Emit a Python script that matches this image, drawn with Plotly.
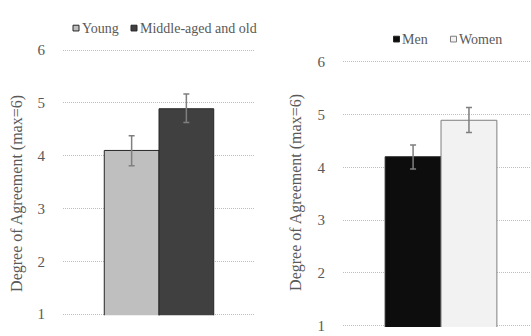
import plotly.graph_objects as go

# Data
age_groups = ["Young", "Middle-aged and old"]
age_means = [4.10, 4.89]
age_err_plus = [0.28, 0.28]
age_err_minus = [0.29, 0.26]

gender_groups = ["Men", "Women"]
gender_means = [4.20, 4.89]
gender_err_plus = [0.22, 0.24]
gender_err_minus = [0.23, 0.23]

y_title = "Degree of Agreement (max=6)"

age_colors = ["#bfbfbf", "#404040"]
age_lines = ["#262626", "#262626"]
gender_colors = ["#0d0d0d", "#f2f2f2"]
gender_lines = ["#262626", "#7f7f7f"]

FONT = "Liberation Serif"
TXT = "#595959"
W, H = 531, 336

fig = go.Figure()

for name, val, ep, em, c, lc in zip(age_groups, age_means, age_err_plus, age_err_minus, age_colors, age_lines):
    fig.add_trace(go.Bar(
        x=["a"], y=[val], name=name, marker=dict(color=c, line=dict(color=lc, width=1)),
        error_y=dict(type="data", symmetric=False, array=[ep], arrayminus=[em],
                     color="#7f7f7f", thickness=1.5, width=3),
        xaxis="x", yaxis="y", showlegend=False,
    ))

for name, val, ep, em, c, lc in zip(gender_groups, gender_means, gender_err_plus, gender_err_minus, gender_colors, gender_lines):
    fig.add_trace(go.Bar(
        x=["g"], y=[val], name=name, marker=dict(color=c, line=dict(color=lc, width=1)),
        error_y=dict(type="data", symmetric=False, array=[ep], arrayminus=[em],
                     color="#7f7f7f", thickness=1.5, width=3),
        xaxis="x2", yaxis="y2", showlegend=False,
    ))

PAD = 0.02
yax_common = dict(
    range=[1 - PAD, 6 + PAD], tickvals=[1, 2, 3, 4, 5, 6], showgrid=True, gridcolor="#bfbfbf",
    griddash="1px,1px", gridwidth=1,
    zeroline=False, showline=False, ticks="outside", ticklen=14, tickcolor="rgba(0,0,0,0)",
    tickfont=dict(family=FONT, size=15, color=TXT),
)


def ydomain(px1, px6):
    unit = (px1 - px6) / 5.0
    bot = px1 + PAD * unit
    top = px6 - PAD * unit
    return [(H - bot) / H, (H - top) / H]


fig.update_layout(
    width=W, height=H,
    margin=dict(l=0, r=0, t=0, b=0),
    paper_bgcolor="white", plot_bgcolor="white",
    font=dict(family=FONT, color=TXT),
    barmode="group", bargap=0.43, bargroupgap=0,
    showlegend=False,
    xaxis=dict(domain=[63 / W, 255 / W], showticklabels=False, showgrid=False, zeroline=False,
               anchor="y", range=[-0.5, 0.5]),
    yaxis=dict(domain=ydomain(320.5, 45), anchor="x", **yax_common),
    xaxis2=dict(domain=[343 / W, 1.0], showticklabels=False, showgrid=False, zeroline=False,
                anchor="y2", range=[-0.5, 0.459]),
    yaxis2=dict(domain=ydomain(332.7, 57), anchor="x2", **yax_common),
)

# Axis titles
fig.add_annotation(text=y_title, xref="paper", yref="paper", x=17 / W, y=1 - 195 / H,
                   textangle=-90, showarrow=False, font=dict(family=FONT, size=16, color=TXT),
                   xanchor="center", yanchor="middle")
fig.add_annotation(text=y_title, xref="paper", yref="paper", x=296 / W, y=1 - 194 / H,
                   textangle=-90, showarrow=False, font=dict(family=FONT, size=16, color=TXT),
                   xanchor="center", yanchor="middle")

# Legends (small squares + text)
def legend_item(x0, yc, size, fill, line, label):
    fig.add_shape(type="rect", xref="paper", yref="paper",
                  x0=x0 / W, x1=(x0 + size) / W, y0=1 - (yc + size / 2) / H, y1=1 - (yc - size / 2) / H,
                  fillcolor=fill, line=dict(color=line, width=1))
    fig.add_annotation(text=label, xref="paper", yref="paper", x=(x0 + size + 0.5) / W, y=1 - yc / H,
                       xanchor="left", yanchor="middle", showarrow=False,
                       font=dict(family=FONT, size=14, color=TXT))

legend_item(73, 22, 6, age_colors[0], age_lines[0], age_groups[0])
legend_item(131, 22, 6, age_colors[1], age_lines[1], age_groups[1])
legend_item(393.5, 33.5, 6, gender_colors[0], gender_lines[0], gender_groups[0])
legend_item(450.5, 33.5, 6, gender_colors[1], gender_lines[1], gender_groups[1])

fig.write_html("out.html", config={"displayModeBar": False},
               post_script="document.body.style.margin='0';document.body.style.overflow='hidden';")
